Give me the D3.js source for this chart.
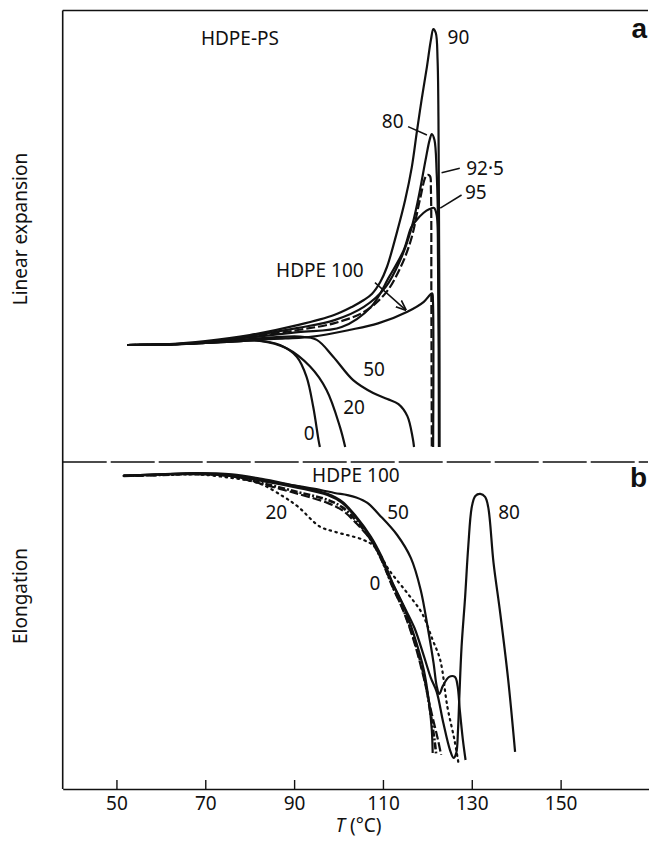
<!DOCTYPE html>
<html>
<head>
<meta charset="utf-8">
<script src="https://cdn.jsdelivr.net/npm/d3@7"></script>
<style>
  body { margin: 0; background: #fff; }
  svg { display: block; }
  text { font-family: "Noto Sans", "DejaVu Sans", sans-serif; fill: #111; }
</style>
</head>
<body>
<div class="vis-dilatometry"></div>
<script>
// temperature ticks
const tempTicks = [50, 70, 90, 110, 130, 150];

// panel a: linear expansion (arbitrary units, 0 = flat start), [T, value]
const expHDPE100 = [[52.4,0],[62,0.2],[70,0.7],[80,1.7],[88,2.2],[94.2,2.8],[102.4,5],[108.9,7.2],[115.5,11.1],[119.2,14.4],[120.6,16.7],[121.1,17.2],[121.25,15],[121.3,-34]];
const exp95 = [[52.4,0],[62,0.2],[70,0.8],[80,2.5],[90.9,4.3],[100.7,6],[107.3,12.7],[111.4,22.7],[114.7,31.7],[116.3,39],[117.2,41],[119.1,44],[120.5,45.3],[121.5,45.7],[122.1,43.3],[122.4,28.3],[122.6,-34]];
const exp925 = [[52.4,0],[62,0.2],[70,1],[80,2.8],[90.9,5],[99.1,7.3],[105.7,11],[110.6,17.3],[113.9,25.7],[116.3,35],[118.3,48.3],[119.6,56],[120.1,56.7],[120.6,56.3],[120.8,51.7],[120.9,15],[121,-34]];
const exp90 = [[52.4,0],[62,0.3],[70,1.3],[80,3.3],[91,6.7],[99,10],[103,12.7],[105.7,15],[107.5,17],[109.4,21],[110.9,26],[113.1,37.3],[115,48.3],[116.5,59.3],[117.6,70.7],[118.7,81.7],[119.9,92.7],[120.8,101.7],[121.35,105.3],[121.9,104],[122.3,95],[122.5,75],[122.6,48.3],[122.7,15],[122.7,-34]];
const exp80 = [[52.4,0],[62,0.2],[70,1],[80,3],[90.9,5.7],[99.1,8.3],[105.7,12.7],[110.6,19.3],[113.9,28.3],[116.3,38.3],[117.9,48.3],[119.6,61.7],[120.5,68.3],[121,70.3],[121.6,68.3],[122.1,57.3],[122.4,41.7],[122.6,15],[122.7,-34]];
const exp50 = [[52.4,0],[62,0.2],[70,0.8],[80,2],[91.3,2.8],[95.1,1.7],[98.8,-3.9],[103.3,-11.7],[107.8,-16],[111,-18],[113.5,-19.7],[115.5,-23.7],[116.7,-31],[117,-34]];
const exp20 = [[52.4,0],[62,0.2],[70,0.7],[78,1.3],[82.3,1.4],[88.3,-1.1],[93.6,-7.2],[97.3,-15],[100.3,-27.2],[101.5,-34]];
const exp0 = [[52.4,0],[62,0.2],[70,0.7],[78,1.3],[81.6,1.5],[86.8,0],[90.6,-3.9],[92.8,-10.6],[94.3,-20.6],[95.5,-31.7],[95.8,-34]];

// panel b: elongation (arbitrary units), [T, value]
const elHDPE100 = [[51.6,94.7],[60,95.2],[68,95.5],[76,95],[82.7,93.3],[90.9,91.2],[97.5,88.7],[100.8,86.1],[104,81.1],[107.3,74.4],[109.7,67.8],[112.2,58.9],[114.7,51.1],[117.1,41.1],[119.2,30],[120.4,18.9],[121,10],[121.2,2.3]];
const el925 = [[51.6,94.7],[60,95],[68,95.3],[76,94.5],[82.7,92],[90.9,88.7],[97.5,85.7],[100.8,83.3],[104,78.9],[107.3,73.3],[109.7,66.7],[112.2,57.7],[114.7,49.3],[117.1,39],[119.2,27.3],[120.9,16],[122.3,7.3],[123.1,1.7]];
const el0 = [[51.6,94.7],[60,95],[68,95.3],[76,94.7],[82.7,92.3],[90.9,89.3],[97.5,86.7],[100.8,84.3],[104,79.7],[107.3,73.3],[109.7,66.7],[112.2,57.7],[114.7,49.7],[117.1,39.7],[119.2,28.3],[120.6,16.7],[121.6,6.7],[122,1.7]];
const el20 = [[51.6,94.7],[60,95],[68,95.2],[76,94],[82,92.3],[87.6,87.8],[90.9,84.4],[95.8,77.8],[99.1,76.1],[105.7,73.3],[108.1,71.1],[111.4,63.3],[115.5,55.6],[118.8,48.9],[121.2,40],[122.9,33.3],[124.5,17.8],[126.1,6.7],[127,-1]];
const el50 = [[51.6,94.7],[60,95.2],[68,95.6],[76,95.2],[82.7,93.7],[90.9,91.3],[96,90],[99.1,89],[102,88.3],[104,87.5],[106.5,85.7],[109.2,81.7],[113.2,75],[116.3,67.3],[118.5,56.7],[120.1,44],[121.4,32.3],[122.1,24.7],[122.7,22],[123.5,24.7],[124.9,27.7],[126.2,27.7],[126.8,24.7],[127.3,16.7],[128,6.7],[128.6,0]];
const el80 = [[51.6,94.7],[60,95.2],[68,95.5],[76,94.8],[82.7,93],[90.9,90.7],[97.5,88.3],[100.8,85.7],[104,80.7],[107.3,74],[109.7,67.3],[112.2,58.7],[114.7,51.3],[117.1,44],[119.2,34.7],[120.8,27.3],[122.1,22.7],[123.6,12.3],[125.1,3.3],[125.9,0.7],[126.5,2.3],[126.9,10],[127.2,21],[127.7,37.7],[128.5,54.3],[129.2,71],[130,84.3],[130.8,88],[131.9,88.7],[133,87.7],[133.7,84.3],[134.9,65.7],[136.4,49],[138.2,26.7],[139.75,2.7]];

// labels [text, T, value]
const labelsA = [["90",127.0,100.3],["80",112.2,72.3],["92·5",133.0,56.7],["95",130.9,48.7],["HDPE 100",95.8,22.7],["50",108.0,-10.3],["20",103.5,-23],["0",93.4,-31.7]];
const leadersA = [[[115.65,72.8],[119.9,70]],[[123.2,57.4],[127.3,58.9]],[[122.9,45.6],[127.7,50]]];
const arrowA = [[108.2,20.8],[115.1,11.7]];
const labelsB = [["HDPE 100",103.9,92.7],["20",86.0,80.3],["50",113.4,80.3],["0",108.2,56.7],["80",138.4,80.3]];

const W = 649, H = 842;
const left = 62.7, right = 648, topA = 10.5, split = 462, bottom = 789;

const svg = d3.select('.vis-dilatometry').append('svg')
    .attr('width', W).attr('height', H);

const x = d3.scaleLinear().domain([37.9, 169.9]).range([left, 649]);
const yA = d3.scaleLinear().domain([-39, 111.5]).range([split, topA]);
const yB = d3.scaleLinear().domain([-9.67, 99.33]).range([bottom, split]);

svg.append('defs').append('marker')
    .attr('id', 'arr').attr('viewBox', '0 0 10 10')
    .attr('refX', 9).attr('refY', 5)
    .attr('markerWidth', 7).attr('markerHeight', 7)
    .attr('orient', 'auto-start-reverse')
    .append('path').attr('d', 'M0,1 L10,5 L0,9').attr('fill', 'none')
    .attr('stroke', '#111').attr('stroke-width', 1.6);

// frame
svg.append('line').attr('x1', left).attr('x2', right).attr('y1', topA).attr('y2', topA)
    .attr('stroke', '#111').attr('stroke-width', 1.6);
svg.append('line').attr('x1', left).attr('x2', left).attr('y1', topA).attr('y2', bottom)
    .attr('stroke', '#111').attr('stroke-width', 1.6);
svg.append('line').attr('x1', left).attr('x2', right).attr('y1', split).attr('y2', split)
    .attr('stroke', '#111').attr('stroke-width', 1.5).attr('stroke-dasharray', '44,4');

// x axis
const axis = svg.append('g')
    .attr('transform', 'translate(0,' + bottom + ')')
    .call(d3.axisBottom(x).tickValues(tempTicks).tickSizeInner(-9).tickSizeOuter(0).tickPadding(8));
axis.select('.domain').attr('stroke', '#111').attr('stroke-width', 1.6);
axis.selectAll('.tick line').attr('stroke', '#111').attr('stroke-width', 1.4);
axis.selectAll('.tick text').attr('font-size', '19px').attr('fill', '#111')
    .style('font-family', '"Noto Sans", sans-serif');

const xl = svg.append('text').attr('x', x(104.5)).attr('y', 832)
    .attr('text-anchor', 'middle').attr('font-size', '19px');
xl.append('tspan').attr('font-style', 'italic').text('T');
xl.append('tspan').text(' (°C)');

// y titles
svg.append('text').attr('transform', 'translate(27,229) rotate(-90)')
    .attr('text-anchor', 'middle').attr('font-size', '19px').text('Linear expansion');
svg.append('text').attr('transform', 'translate(27,596) rotate(-90)')
    .attr('text-anchor', 'middle').attr('font-size', '19px').text('Elongation');

// panel letters
svg.append('text').attr('x', 647).attr('y', 38).attr('text-anchor', 'end')
    .attr('font-size', '28px').attr('font-weight', 'bold')
    .style('font-family', '"Liberation Sans", Arial, sans-serif').text('a');
svg.append('text').attr('x', 647).attr('y', 487).attr('text-anchor', 'end')
    .attr('font-size', '28px').attr('font-weight', 'bold')
    .style('font-family', '"Liberation Sans", Arial, sans-serif').text('b');

// curves
const lineA = d3.line().x(d => x(d[0])).y(d => yA(d[1])).curve(d3.curveCatmullRom.alpha(0.5));
const lineB = d3.line().x(d => x(d[0])).y(d => yB(d[1])).curve(d3.curveCatmullRom.alpha(0.5));

const seriesA = [
    { data: exp0, dash: null }, { data: exp20, dash: null }, { data: exp50, dash: null },
    { data: expHDPE100, dash: null }, { data: exp95, dash: null }, { data: exp925, dash: '9,3' },
    { data: exp80, dash: null }, { data: exp90, dash: null }
];
const seriesB = [
    { data: elHDPE100, dash: null, w: 2.2 }, { data: el925, dash: '9,3', w: 2.2 },
    { data: el0, dash: '7,2,2,2', w: 2.6 }, { data: el20, dash: '1.5,4.5', w: 2.2 },
    { data: el50, dash: null, w: 2.2 }, { data: el80, dash: null, w: 2.2 }
];

svg.append('g').selectAll('path').data(seriesA).enter().append('path')
    .attr('d', d => lineA(d.data))
    .attr('fill', 'none').attr('stroke', '#111').attr('stroke-width', 2.2)
    .attr('stroke-linejoin', 'round')
    .attr('stroke-dasharray', d => d.dash);

svg.append('g').selectAll('path').data(seriesB).enter().append('path')
    .attr('d', d => lineB(d.data))
    .attr('fill', 'none').attr('stroke', '#111').attr('stroke-width', d => d.w)
    .attr('stroke-linejoin', 'round')
    .attr('stroke-linecap', d => d.dash === '1.5,4.5' ? 'round' : 'butt')
    .attr('stroke-dasharray', d => d.dash);

// annotations
svg.append('text').attr('x', x(77.8)).attr('y', yA(100)).attr('text-anchor', 'middle')
    .attr('font-size', '19px').text('HDPE-PS');

svg.append('g').selectAll('text').data(labelsA).enter().append('text')
    .attr('x', d => x(d[1])).attr('y', d => yA(d[2]))
    .attr('text-anchor', 'middle').attr('font-size', '19px').text(d => d[0]);

svg.append('g').selectAll('line').data(leadersA).enter().append('line')
    .attr('x1', d => x(d[0][0])).attr('y1', d => yA(d[0][1]))
    .attr('x2', d => x(d[1][0])).attr('y2', d => yA(d[1][1]))
    .attr('stroke', '#111').attr('stroke-width', 1.5);

svg.append('line')
    .attr('x1', x(arrowA[0][0])).attr('y1', yA(arrowA[0][1]))
    .attr('x2', x(arrowA[1][0])).attr('y2', yA(arrowA[1][1]))
    .attr('stroke', '#111').attr('stroke-width', 1.5).attr('marker-end', 'url(#arr)');

svg.append('g').selectAll('text').data(labelsB).enter().append('text')
    .attr('x', d => x(d[1])).attr('y', d => yB(d[2]))
    .attr('text-anchor', 'middle').attr('font-size', '19px').text(d => d[0]);
</script>
</body>
</html>
